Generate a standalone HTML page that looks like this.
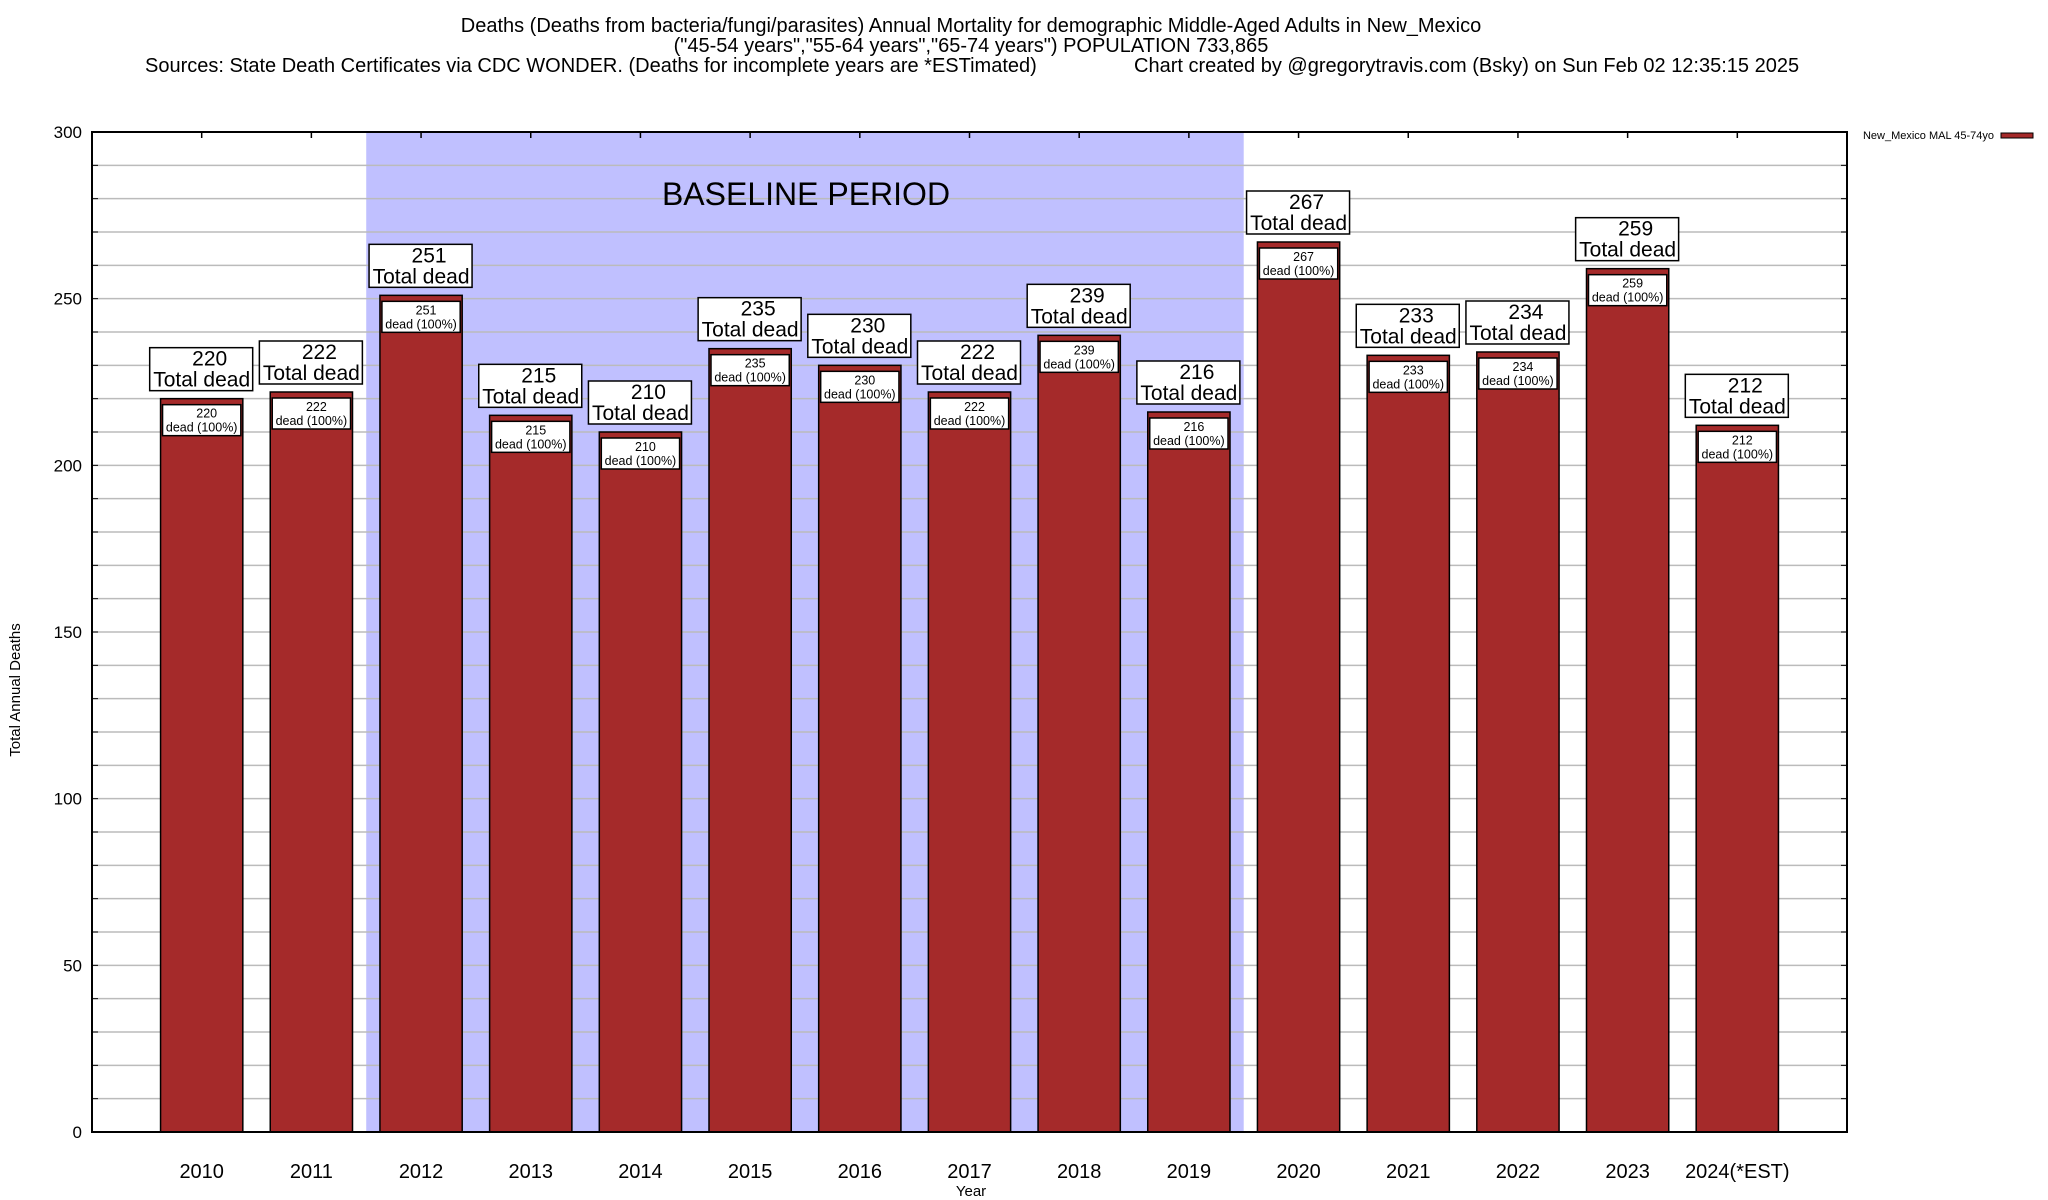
<!DOCTYPE html>
<html><head><meta charset="utf-8"><style>
body{margin:0;background:#fff}
svg{display:block;font-family:"Liberation Sans",Arial,sans-serif}
</style></head><body>
<svg id="chart" width="2048" height="1200" viewBox="0 0 2048 1200" xmlns="http://www.w3.org/2000/svg">
<g font-size="20" fill="#000">
<text x="971" y="32" text-anchor="middle">Deaths (Deaths from bacteria/fungi/parasites) Annual Mortality for demographic Middle-Aged Adults in New_Mexico</text>
<text x="971" y="52" text-anchor="middle">("45-54 years","55-64 years","65-74 years") POPULATION 733,865</text>
<text x="145" y="72">Sources: State Death Certificates via CDC WONDER. (Deaths for incomplete years are *ESTimated)</text>
<text x="1134" y="72">Chart created by @gregorytravis.com (Bsky) on Sun Feb 02 12:35:15 2025</text>
</g>
<g id="plot"></g>
<text x="20" y="690" font-size="15" text-anchor="middle" transform="rotate(-90 20 690)">Total Annual Deaths</text>
<text x="971" y="1196" font-size="15" text-anchor="middle">Year</text>
<g>
<text x="1994" y="139" font-size="11" text-anchor="end">New_Mexico MAL 45-74yo</text>
<rect x="2001" y="133" width="32" height="5" fill="#a52a2a" stroke="#000" stroke-width="1"/>
</g>
</svg>
<script>
const categories = ["2010","2011","2012","2013","2014","2015","2016","2017","2018","2019","2020","2021","2022","2023","2024(*EST)"];
const deaths = [220,222,251,215,210,235,230,222,239,216,267,233,234,259,212];
const yTicks = [0,50,100,150,200,250,300];
const baselineStart = 2, baselineEnd = 9;

const L=92,R=1847,T=132,B=1132,yMax=300;
const slot=(R-L)/(categories.length+1);
const xS=i=>L+slot*(i+1);
const yS=v=>B-(v/yMax)*(B-T);
const NS="http://www.w3.org/2000/svg";
const g=document.getElementById('plot');
function mk(tag,attrs,parent){const e=document.createElementNS(NS,tag);for(const k in attrs)e.setAttribute(k,attrs[k]);(parent||g).appendChild(e);return e;}

let sh=mk('rect',{x:xS(baselineStart)-slot/2,y:T,width:xS(baselineEnd)-xS(baselineStart)+slot,height:B-T,fill:'#c0c0ff'});



for(let v=10;v<yMax;v+=10){
  let ln=mk('line',{x1:L,x2:R,y1:yS(v),y2:yS(v),stroke:'#bbb','stroke-width':1.5});
  
  
  mk('line',{x1:L,x2:L+6,y1:yS(v),y2:yS(v),stroke:'#000','stroke-width':1});
  mk('line',{x1:R-6,x2:R,y1:yS(v),y2:yS(v),stroke:'#000','stroke-width':1});
}
let bt=mk('text',{x:806,y:205,'font-size':32,'text-anchor':'middle'});
bt.textContent='BASELINE PERIOD';



yTicks.forEach(v=>{
  let t=mk('text',{x:L-10,y:yS(v)+6,'font-size':17,'text-anchor':'end'});
  t.textContent=v;
  
  
});

const bw=slot*0.75;
categories.forEach((c,i)=>{
  const cx=xS(i),v=deaths[i],top=yS(v);
  mk('line',{x1:cx,x2:cx,y1:T,y2:T+6,stroke:'#000','stroke-width':1.5});
  let bar=mk('rect',{x:cx-bw/2,y:top,width:bw,height:B-top,fill:'#a52a2a',stroke:'#000','stroke-width':1.5});
  
  
  let ib=mk('rect',{x:cx-bw/2+2,y:top+6,width:bw-4,height:31,fill:'#fff',stroke:'#000','stroke-width':1.5});
  
  
  let t1=mk('text',{x:cx+5,y:top+19,'font-size':12.5,'text-anchor':'middle'});t1.textContent=v;
  
  
  let t2=mk('text',{x:cx,y:top+33,'font-size':12.5,'text-anchor':'middle'});t2.textContent='dead (100%)';
  
  
  let ob=mk('rect',{x:cx-52,y:top-51,width:103,height:43,fill:'#fff',stroke:'#000','stroke-width':1.5});
  
  
  let o1=mk('text',{x:cx+8,y:top-33,'font-size':21,'text-anchor':'middle'});o1.textContent=v;
  
  
  let o2=mk('text',{x:cx,y:top-12,'font-size':21,'text-anchor':'middle'});o2.textContent='Total dead';
  
  
  let xl=mk('text',{x:cx,y:1178,'font-size':20,'text-anchor':'middle'});xl.textContent=c;
  
  
});
let fr=mk('rect',{x:L,y:T,width:R-L,height:B-T,fill:'none',stroke:'#000','stroke-width':2});


</script>
</body></html>
